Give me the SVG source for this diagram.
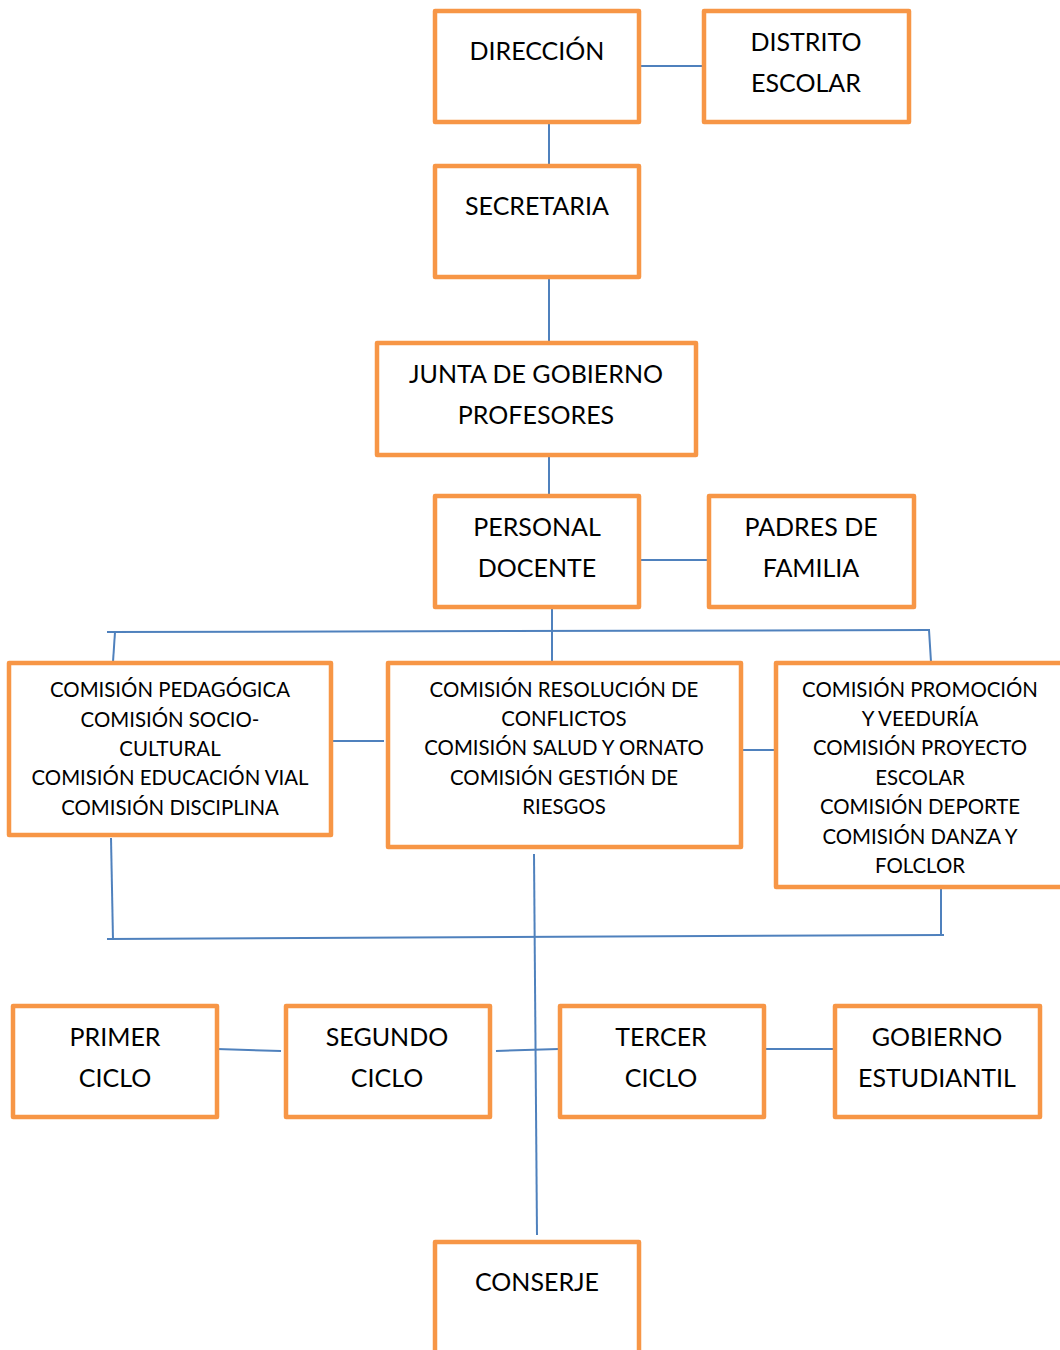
<svg xmlns="http://www.w3.org/2000/svg" width="1060" height="1350" viewBox="0 0 1060 1350">
<style>
.box{fill:#fff;stroke:#F79646;stroke-width:4.5;stroke-linejoin:round}
.t{font-family:Lato,"Liberation Sans",sans-serif;font-size:25px;fill:#000;text-anchor:middle}
.s{font-family:Lato,"Liberation Sans",sans-serif;font-size:20.4px;fill:#000;text-anchor:middle}
.c{fill:none;stroke:#4F81BD;stroke-width:2}
</style>
<rect width="1060" height="1350" fill="#fff"/>
<g id="connectors">
<line class="c" x1="639" y1="66" x2="703" y2="66"/>
<line class="c" x1="549" y1="122" x2="549" y2="165"/>
<line class="c" x1="549" y1="277" x2="549" y2="342"/>
<line class="c" x1="549" y1="455" x2="549" y2="495"/>
<line class="c" x1="639" y1="560" x2="708" y2="560"/>
<line class="c" x1="552" y1="607" x2="552" y2="662"/>
<line class="c" x1="107" y1="632" x2="930" y2="630"/>
<line class="c" x1="115" y1="632" x2="113" y2="662"/>
<line class="c" x1="929" y1="630" x2="931" y2="662"/>
<line class="c" x1="331" y1="741" x2="384" y2="741"/>
<line class="c" x1="741" y1="750" x2="775" y2="750"/>
<line class="c" x1="111" y1="838" x2="113" y2="940"/>
<line class="c" x1="941" y1="887" x2="941" y2="935"/>
<line class="c" x1="107" y1="939" x2="944" y2="935"/>
<line class="c" x1="534" y1="854" x2="537" y2="1235"/>
<line class="c" x1="217" y1="1049" x2="281" y2="1051"/>
<line class="c" x1="496" y1="1051" x2="559" y2="1049"/>
<line class="c" x1="764" y1="1049" x2="834" y2="1049"/>
</g>
<g id="direccion"><rect class="box" x="435" y="11" width="204" height="111"/><text class="t" x="537" y="60">DIRECCIÓN</text></g>
<g id="distrito"><rect class="box" x="704" y="11" width="205" height="111"/><text class="t" x="806" y="51">DISTRITO</text><text class="t" x="806" y="92">ESCOLAR</text></g>
<g id="secretaria"><rect class="box" x="435" y="166" width="204" height="111"/><text class="t" x="537" y="215">SECRETARIA</text></g>
<g id="junta"><rect class="box" x="377" y="343" width="319" height="112"/><text class="t" x="536" y="383">JUNTA DE GOBIERNO</text><text class="t" x="536" y="424">PROFESORES</text></g>
<g id="personal"><rect class="box" x="435" y="496" width="204" height="111"/><text class="t" x="537" y="536">PERSONAL</text><text class="t" x="537" y="577">DOCENTE</text></g>
<g id="padres"><rect class="box" x="709" y="496" width="205" height="111"/><text class="t" x="811" y="536">PADRES DE</text><text class="t" x="811" y="577">FAMILIA</text></g>
<g id="comision-izq"><rect class="box" x="9" y="663" width="322" height="172"/>
<text class="s" x="170" y="697">COMISIÓN PEDAGÓGICA</text><text class="s" x="170" y="727">COMISIÓN SOCIO-</text><text class="s" x="170" y="756">CULTURAL</text><text class="s" x="170" y="785">COMISIÓN EDUCACIÓN VIAL</text><text class="s" x="170" y="815">COMISIÓN DISCIPLINA</text></g>
<g id="comision-centro"><rect class="box" x="388" y="663" width="353" height="184"/>
<text class="s" x="564" y="697">COMISIÓN RESOLUCIÓN DE</text><text class="s" x="564" y="726">CONFLICTOS</text><text class="s" x="564" y="755">COMISIÓN SALUD Y ORNATO</text><text class="s" x="564" y="785">COMISIÓN GESTIÓN DE</text><text class="s" x="564" y="814">RIESGOS</text></g>
<g id="comision-der"><rect class="box" x="776" y="663" width="300" height="224"/>
<text class="s" x="920" y="697">COMISIÓN PROMOCIÓN</text><text class="s" x="920" y="726">Y VEEDURÍA</text><text class="s" x="920" y="755">COMISIÓN PROYECTO</text><text class="s" x="920" y="785">ESCOLAR</text><text class="s" x="920" y="814">COMISIÓN DEPORTE</text><text class="s" x="920" y="844">COMISIÓN DANZA Y</text><text class="s" x="920" y="873">FOLCLOR</text></g>
<g id="primer"><rect class="box" x="13" y="1006" width="204" height="111"/><text class="t" x="115" y="1046">PRIMER</text><text class="t" x="115" y="1087">CICLO</text></g>
<g id="segundo"><rect class="box" x="286" y="1006" width="204" height="111"/><text class="t" x="387" y="1046">SEGUNDO</text><text class="t" x="387" y="1087">CICLO</text></g>
<g id="tercer"><rect class="box" x="560" y="1006" width="204" height="111"/><text class="t" x="661" y="1046">TERCER</text><text class="t" x="661" y="1087">CICLO</text></g>
<g id="gobierno"><rect class="box" x="835" y="1006" width="205" height="111"/><text class="t" x="937" y="1046">GOBIERNO</text><text class="t" x="937" y="1087">ESTUDIANTIL</text></g>
<g id="conserje"><rect class="box" x="435" y="1242" width="204" height="120"/><text class="t" x="537" y="1291">CONSERJE</text></g>
</svg>
